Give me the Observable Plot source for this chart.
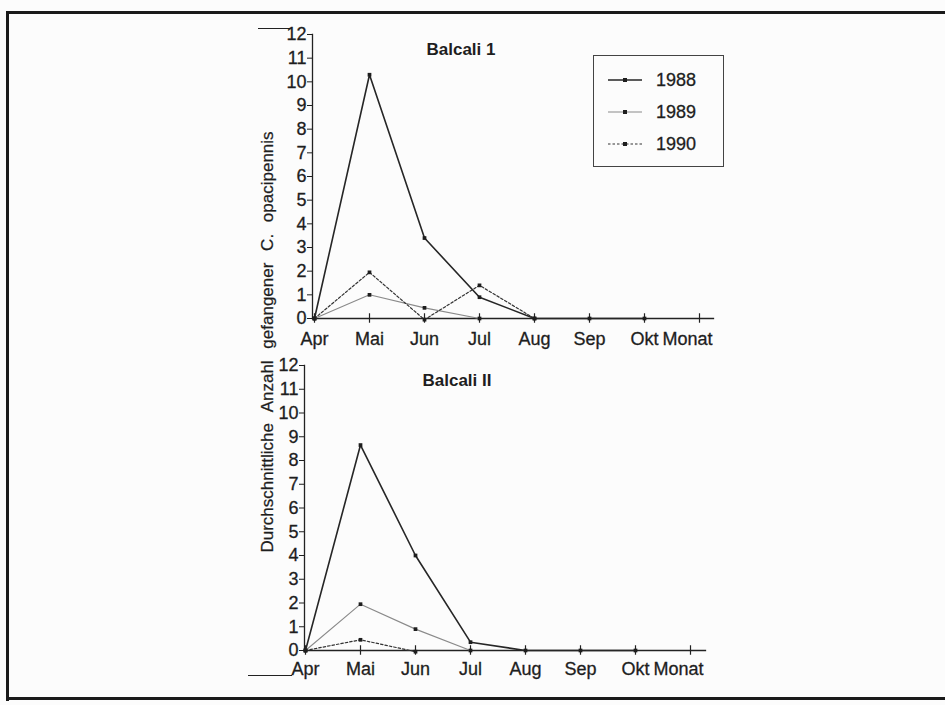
<!DOCTYPE html>
<html>
<head>
<meta charset="utf-8">
<script src="https://cdn.jsdelivr.net/npm/d3@7"></script>
<script src="https://cdn.jsdelivr.net/npm/@observablehq/plot@0.6"></script>
<style>
  html, body { margin: 0; padding: 0; background: #fcfcfc; }
  #page { position: relative; width: 945px; height: 705px; overflow: hidden; font-family: "Liberation Sans", Arial, Helvetica, sans-serif; color: #1e1e1e; }
  #page svg text { stroke: #1e1e1e; stroke-width: 0.3px; }
  .panel { position: absolute; left: 0; top: 0; }
  .frame-top { position: absolute; left: 7px; top: 11px; width: 938px; height: 3px; background: #1a1a1a; }
  .frame-left { position: absolute; left: 6px; top: 11px; width: 3px; height: 690px; background: #1a1a1a; }
  .frame-bottom { position: absolute; left: 6px; top: 697px; width: 939px; height: 3px; background: #1a1a1a; }
  .stub { position: absolute; height: 1.2px; background: #222; }
  .title { position: absolute; font-weight: bold; font-size: 17px; transform: translateX(-50%); white-space: nowrap; }
  .ylabel { position: absolute; font-size: 17px; white-space: nowrap; word-spacing: 7px; -webkit-text-stroke: 0.25px #1e1e1e; transform: translate(-50%, -50%) rotate(-90deg); }
  #legend { position: absolute; left: 593px; top: 55px; width: 131px; height: 112px; border: 1px solid #444; box-sizing: border-box; }
  .lrow { position: absolute; left: 14px; height: 20px; display: flex; align-items: center; font-size: 18px; -webkit-text-stroke: 0.3px #1e1e1e; }
  .lrow svg { margin-right: 14px; }
</style>
</head>
<body>
<div id="page">
  <div class="frame-top"></div>
  <div class="frame-left"></div>
  <div class="frame-bottom"></div>
  <div class="stub" style="left:258px; top:28px; width:32px;"></div>
  <div class="stub" style="left:248px; top:675px; width:44px;"></div>
  <div id="top" class="panel"></div>
  <div id="bottom" class="panel"></div>
  <div class="title" style="left:461px; top:40px;">Balcali 1</div>
  <div class="title" style="left:457px; top:371px;">Balcali II</div>
  <div class="ylabel" style="left:268px; top:342px;">Durchschnittliche Anzahl gefangener C. opacipennis</div>
  <div id="legend"></div>
</div>
<script>
// ---- data ----
const months = ["Apr", "Mai", "Jun", "Jul", "Aug", "Sep", "Okt"];
const tickLabels = ["Apr", "Mai", "Jun", "Jul", "Aug", "Sep", "Okt", "Monat"];
const axisTitle = ["Monat"];
const yTicks = [0, 1, 2, 3, 4, 5, 6, 7, 8, 9, 10, 11, 12];
const years = ["1988", "1989", "1990"];

// Balcali 1
const b1_1988 = [0, 10.3, 3.4, 0.9, 0, 0, 0];
const b1_1989 = [0, 1.0, 0.45, 0];
const b1_1990 = [0, 1.95, -0.05, 1.4, 0];
// Balcali II
const b2_1988 = [0, 8.65, 4.0, 0.35, 0, 0, 0];
const b2_1989 = [0, 1.95, 0.9, 0];
const b2_1990 = [0, 0.45, -0.05];

const styles = {
  "1988": {stroke: "#262626", strokeWidth: 1.6, dash: null},
  "1989": {stroke: "#8a8a8a", strokeWidth: 1.1, dash: null},
  "1990": {stroke: "#333333", strokeWidth: 1.2, dash: "2.5,2"}
};

function rows(values) {
  return values.map((v, i) => ({month: months[i], value: v}));
}

function panel(series, g) {
  const marks = [
    Plot.frame({anchor: "left", stroke: "#222", strokeWidth: 1.3}),
    Plot.frame({anchor: "bottom", stroke: "#222", strokeWidth: 1.3}),
    Plot.axisY({ticks: yTicks, tickSize: 5, tickPadding: 1, label: null, fontSize: 18}),
    Plot.axisX({ticks: months, tickSize: 0, tickPadding: g.xPad, label: null, fontSize: 18}),
    Plot.axisX({ticks: axisTitle, tickSize: 0, tickPadding: g.xPad, label: null, fontSize: 18, dx: -12}),
    Plot.ruleX(tickLabels, {x: d => d, y1: -0.2, y2: 0.2, stroke: "#222", strokeWidth: 1.2})
  ];
  for (const y of years) {
    const s = styles[y];
    const data = rows(series[y]);
    marks.push(Plot.line(data, {x: "month", y: "value", stroke: s.stroke, strokeWidth: s.strokeWidth, strokeDasharray: s.dash}));
    marks.push(Plot.dot(data, {x: "month", y: "value", symbol: "square", r: 2.1, fill: "#1e1e1e", stroke: "none"}));
  }
  return Plot.plot({
    width: 945,
    height: g.zero + 40,
    marginLeft: g.left,
    marginRight: 945 - g.axisEnd,
    marginTop: g.top,
    marginBottom: 40,
    x: {type: "point", domain: tickLabels, range: [g.left, g.last], padding: 0},
    y: {domain: [0, 12], range: [g.zero, g.top]},
    style: {fontFamily: "'Liberation Sans', Arial, Helvetica, sans-serif", fontSize: "18px", color: "#1e1e1e", background: "transparent", overflow: "visible"},
    marks
  });
}

document.getElementById("top").appendChild(panel(
  {"1988": b1_1988, "1989": b1_1989, "1990": b1_1990},
  {left: 312, last: 700, axisEnd: 713, zero: 318, top: 34, xPad: 14}
));
document.getElementById("bottom").appendChild(panel(
  {"1988": b2_1988, "1989": b2_1989, "1990": b2_1990},
  {left: 304, last: 691, axisEnd: 705, zero: 650, top: 365, xPad: 12}
));

// legend
const legend = document.getElementById("legend");
years.forEach((y, i) => {
  const s = styles[y];
  const row = document.createElement("div");
  row.className = "lrow";
  row.style.top = (14 + i * 32) + "px";
  row.innerHTML = `<svg width="34" height="10"><line x1="0" y1="5" x2="34" y2="5" stroke="${s.stroke}" stroke-width="${s.strokeWidth}" ${s.dash ? `stroke-dasharray="${s.dash}"` : ""}/><rect x="15" y="3" width="4" height="4" fill="#1e1e1e"/></svg><span>${y}</span>`;
  legend.appendChild(row);
});
</script>
</body>
</html>
